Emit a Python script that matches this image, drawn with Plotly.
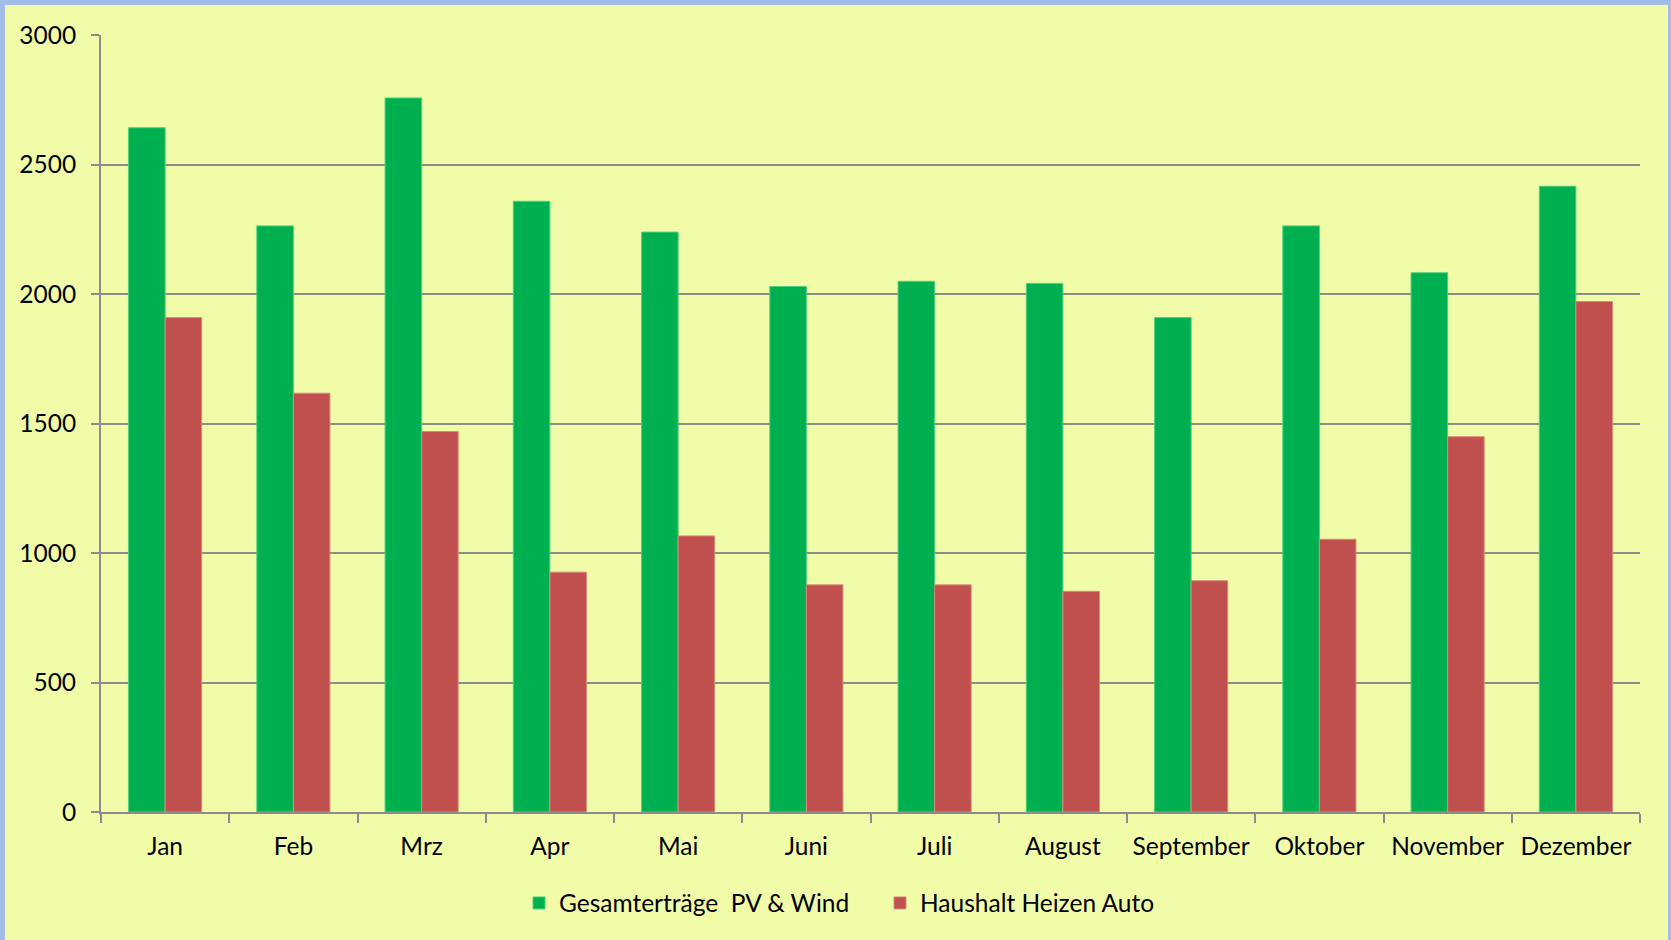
import plotly.graph_objects as go

months = ["Jan", "Feb", "Mrz", "Apr", "Mai", "Juni", "Juli", "August",
          "September", "Oktober", "November", "Dezember"]
ertraege = [2642, 2263, 2757, 2358, 2239, 2029, 2049, 2041, 1909, 2263, 2082, 2416]
verbrauch = [1909, 1617, 1469, 926, 1066, 877, 877, 852, 893, 1053, 1449, 1971]
series_names = ["Gesamterträge  PV & Wind", "Haushalt Heizen Auto"]
y_ticks = [0, 500, 1000, 1500, 2000, 2500, 3000]

W, H = 1671, 940
L, R, T, B = 101, 31, 35, 128
pw, ph = W - L - R, H - T - B

bg = "#F1FCA9"
grid = "#8C8C8C"
font = "Lato"
fs = 24.5

fig = go.Figure()
fig.add_trace(go.Bar(x=months, y=ertraege, name=series_names[0],
                     marker=dict(color="#00B050", line=dict(color="#4FD07A", width=1))))
fig.add_trace(go.Bar(x=months, y=verbrauch, name=series_names[1],
                     marker=dict(color="#C0504D", line=dict(color="#D88A7C", width=1))))

fig.update_layout(
    width=W, height=H,
    margin=dict(l=L, r=R, t=T, b=B, pad=0),
    paper_bgcolor=bg, plot_bgcolor=bg,
    barmode="group", bargap=0.43, bargroupgap=0,
    font=dict(family=font, size=fs, color="black"),
    showlegend=True,
    legend=dict(orientation="h", x=(519 - L) / pw, xanchor="left",
                y=(812 - 903) / ph, yanchor="middle",
                font=dict(family=font, size=fs, color="black"),
                itemwidth=30, entrywidth=316, entrywidthmode="pixels",
                bgcolor="rgba(0,0,0,0)", traceorder="normal"),
    xaxis=dict(type="category", showgrid=False, showline=True, linecolor=grid, linewidth=2,
               ticks="outside", tickson="boundaries", ticklen=9, tickcolor=grid, tickwidth=2,
               ticklabelstandoff=12, tickfont=dict(family=font, size=fs, color="black"),
               zeroline=False),
    yaxis=dict(range=[0, 3000], tickvals=y_ticks, showgrid=True, gridcolor=grid, gridwidth=2,
               showline=True, linecolor=grid, linewidth=2, ticks="outside", ticklen=8,
               tickcolor=grid, tickwidth=2, ticklabelstandoff=10,
               tickfont=dict(family=font, size=fs, color="black"), zeroline=False),
)

# light blue frame around the whole chart
fig.add_shape(type="rect", xref="paper", yref="paper", layer="above",
              x0=(0 - L) / pw, x1=(W + 2 - L) / pw,
              y0=(T + ph - (H + 6)) / ph, y1=(T + ph + 0) / ph,
              line=dict(color="#A3BCE8", width=10), fillcolor="rgba(0,0,0,0)")

fig.write_html("out.html", config={"displayModeBar": False},
               post_script="document.body.style.margin='0';document.body.style.overflow='hidden';")
